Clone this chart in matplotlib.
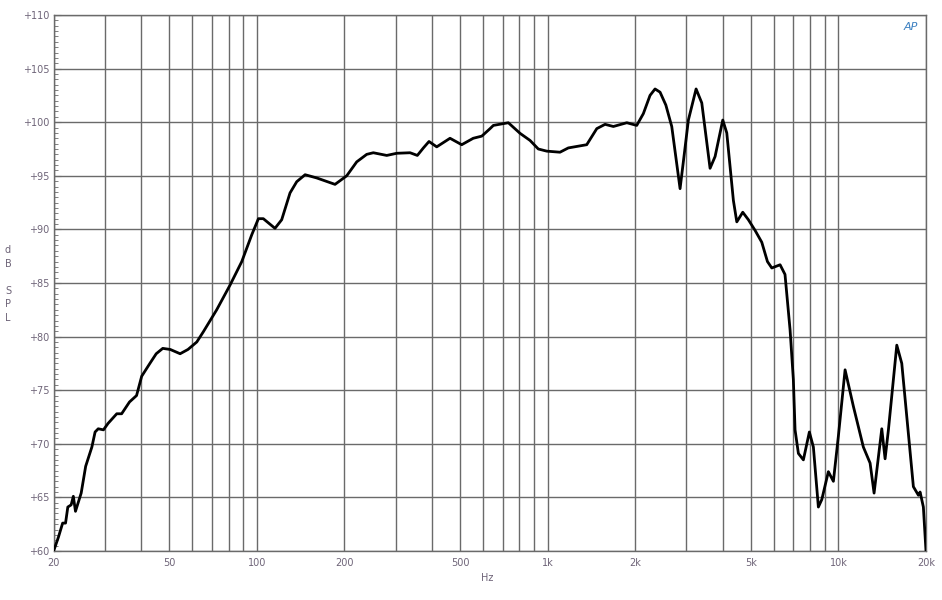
import numpy as np
import matplotlib.pyplot as plt
from matplotlib.ticker import FixedLocator, NullLocator, MultipleLocator

# frequency response
freq_hz = [20, 20.2, 20.8, 21.5, 22.0, 22.4, 23.0, 23.4, 23.8, 24.9, 25.8, 27.1, 27.8,
           28.5, 29.7, 30.8, 33.0, 34.3, 36.5, 38.6, 40.2, 42.9, 45.1, 47.5, 50.4,
           54.5, 58.0, 62.2, 65.5, 72.8, 80.9, 88.8, 96.1, 101.3, 105.3, 115.5, 121.8,
           130.1, 137.2, 146.6, 160.7, 185.8, 203.8, 220.6, 238.8, 251.6, 279.8,
           302.8, 336.6, 356.5, 374, 391, 415.6, 461.8, 506.6, 555, 593.8, 634,
           650.8, 732.8, 804, 870, 929, 993, 1103, 1178, 1363, 1476, 1576, 1683,
           1872, 2025, 2134, 2250, 2341, 2436, 2550, 2672, 2854, 2950, 3048, 3240, 3389,
           3619, 3766, 4002, 4131, 4353, 4472, 4688, 4902, 5170, 5450, 5700, 5900,
           6300, 6550, 6820, 6998, 7093, 7283, 7576, 7944, 8200, 8531, 8766, 9234,
           9608, 9994, 10540, 11254, 12180, 12848, 13260, 14094, 14468, 14854, 15872,
           16510, 18100, 18834, 19088, 19590, 20000]
spl_db = [60.0, 60.3, 61.3, 62.6, 62.6, 64.1, 64.3, 65.1, 63.7, 65.4, 67.9, 69.7, 71.1,
          71.4, 71.3, 71.9, 72.8, 72.8, 73.9, 74.5, 76.3, 77.5, 78.4, 78.9, 78.8,
          78.4, 78.8, 79.5, 80.45, 82.5, 84.8, 87.0, 89.5, 91.0, 91.0, 90.1, 90.9,
          93.4, 94.45, 95.1, 94.8, 94.2, 95.0, 96.3, 97.0, 97.15, 96.9,
          97.1, 97.15, 96.9, 97.6, 98.2, 97.7, 98.5, 97.9, 98.5, 98.7, 99.4,
          99.7, 99.95, 98.96, 98.3, 97.5, 97.3, 97.2, 97.6, 97.9, 99.4, 99.8, 99.6,
          99.95, 99.7, 100.8, 102.5, 103.1, 102.8, 101.6, 99.6, 93.8, 97.0, 100.2, 103.1,
          101.8, 95.7, 96.8, 100.2, 99.0, 92.7, 90.7, 91.6, 90.9, 89.9, 88.8, 87.0,
          86.4, 86.7, 85.8, 80.6, 76.0, 71.3, 69.1, 68.5, 71.1, 69.7, 64.1, 64.8,
          67.4, 66.5, 70.7, 76.9, 73.5, 69.7, 68.2, 65.4, 71.4, 68.6, 71.3, 79.2,
          77.5, 66.0, 65.2, 65.5, 64.1, 60.0]

x_ticks = [20, 50, 100, 200, 500, 1000, 2000, 5000, 10000, 20000]
x_tick_labels = ["20", "50", "100", "200", "500", "1k", "2k", "5k", "10k", "20k"]
y_ticks = [60, 65, 70, 75, 80, 85, 90, 95, 100, 105, 110]

grid_freqs = [20, 30, 40, 50, 60, 70, 80, 90, 100, 200, 300, 400, 500, 600, 700, 800, 900,
              1000, 2000, 3000, 4000, 5000, 6000, 7000, 8000, 9000, 10000, 20000]

fig = plt.figure(figsize=(9.42, 6), dpi=100)
ax = fig.add_axes([0.0568, 0.0817, 0.9262, 0.8933])

ax.set_xscale("log")
ax.set_xlim(20, 20000)
ax.set_ylim(60, 110)

grid_col = "#6a6a6a"
for f in grid_freqs:
    ax.axvline(f, color=grid_col, lw=1.0, zorder=1)
for y in y_ticks:
    ax.axhline(y, color=grid_col, lw=1.0, zorder=1)

ax.plot(freq_hz, spl_db, color="black", lw=2.0, zorder=3,
        solid_joinstyle="round", solid_capstyle="round")

ax.xaxis.set_major_locator(FixedLocator(x_ticks))
ax.xaxis.set_minor_locator(NullLocator())
ax.set_xticklabels(x_tick_labels)
ax.yaxis.set_major_locator(FixedLocator(y_ticks))
ax.yaxis.set_minor_locator(MultipleLocator(0.5))
ax.set_yticklabels(["+%d" % v for v in y_ticks])

label_col = "#6e6478"
ax.tick_params(axis="x", length=0, pad=5, labelsize=7, labelcolor=label_col)
ax.tick_params(axis="y", which="major", direction="in", length=5, pad=3,
               labelsize=7, labelcolor=label_col, color=grid_col)
ax.tick_params(axis="y", which="minor", direction="in", length=3, color=grid_col)

for s in ax.spines.values():
    s.set_color(grid_col)
    s.set_linewidth(1.0)

fig.text(487 / 942, 1 - 578 / 600, "Hz", fontsize=7, color=label_col,
         ha="center", va="center")
fig.text(8 / 942, 1 - 284 / 600, "d\nB\n\nS\nP\nL", fontsize=7, color=label_col,
         ha="center", va="center", linespacing=1.45)
fig.text(911 / 942, 1 - 27 / 600, "AP", fontsize=8, color="#3a7fc0",
         ha="center", va="center", style="italic")

fig.savefig("out.png", dpi=100)
